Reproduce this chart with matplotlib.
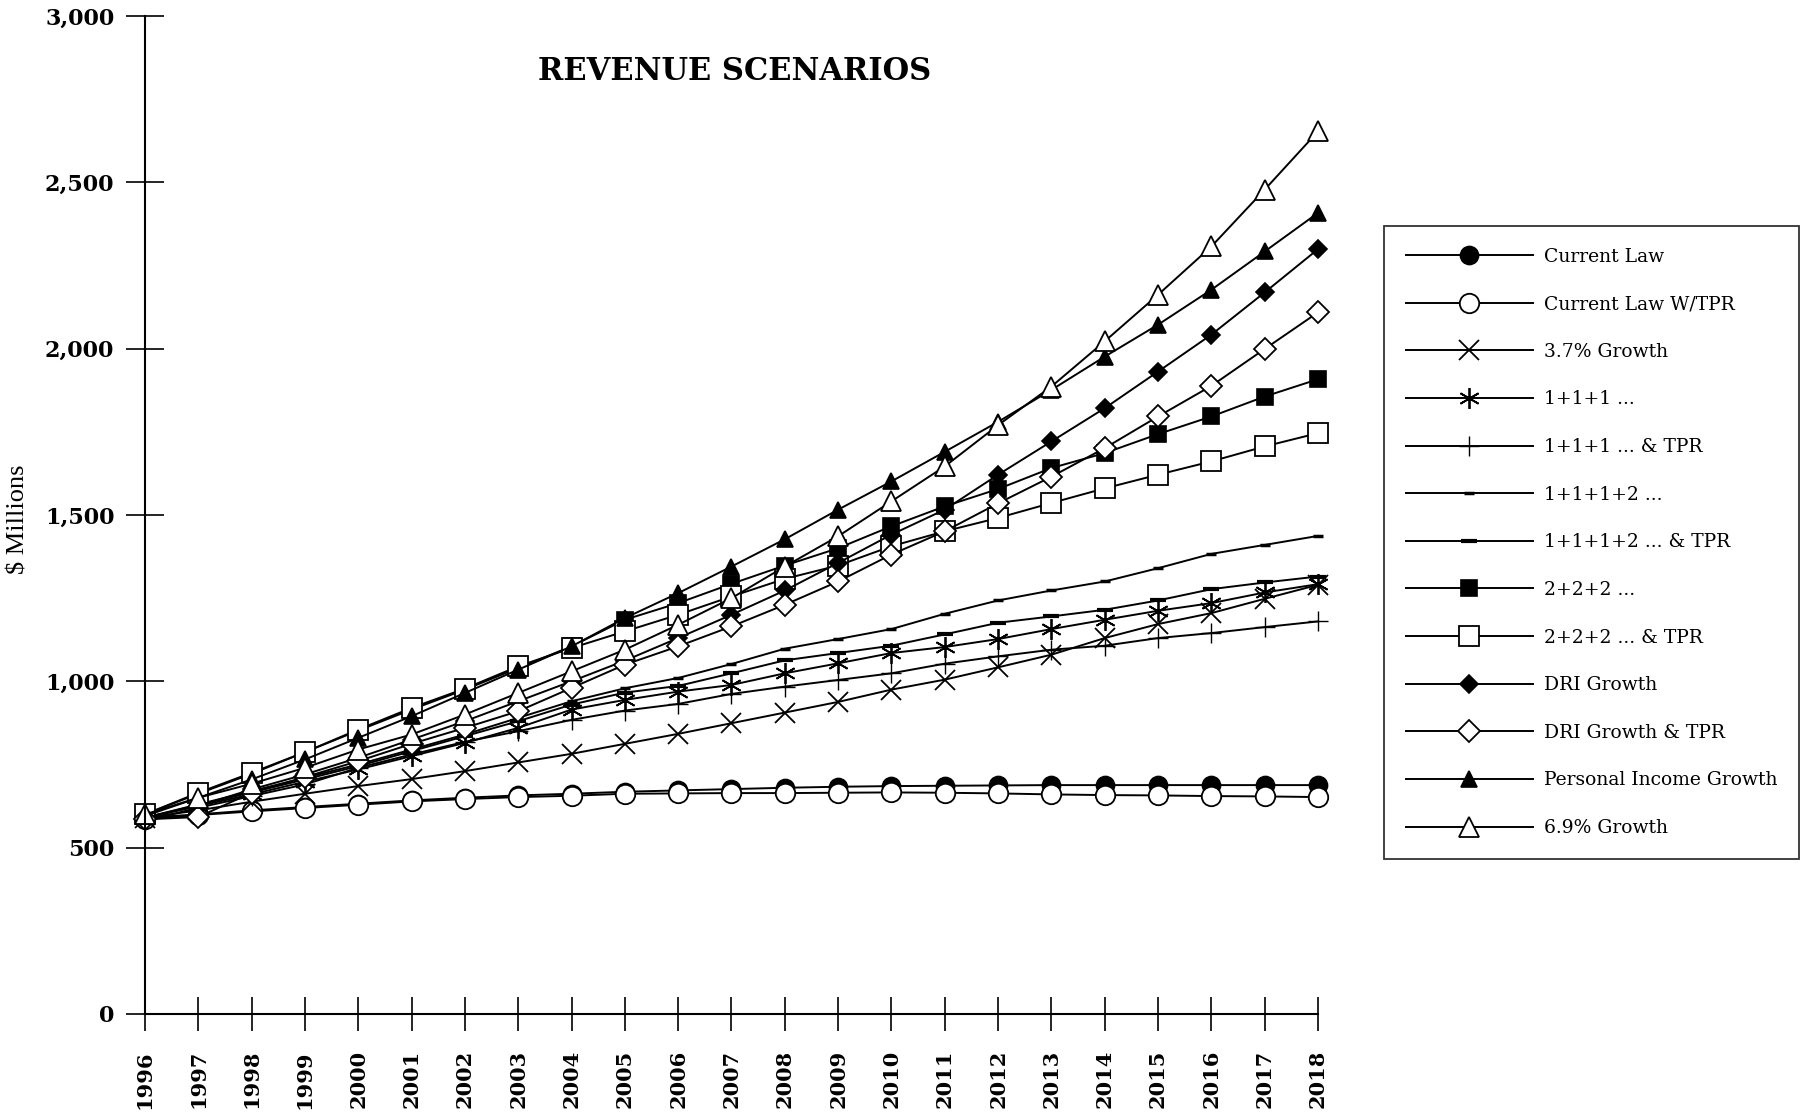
import matplotlib
matplotlib.use("Agg")
import matplotlib.pyplot as plt
from matplotlib.ticker import FuncFormatter, FixedLocator

plt.rcParams['font.family'] = ['DejaVu Serif']

years = list(range(1996, 2019))

current_law = [590, 600, 612, 622, 632, 642, 650, 657, 662, 668, 672, 676, 680,
               683, 685, 686, 687, 688, 688, 688, 688, 688, 688]
current_law_tpr = [585, 598, 609, 619, 629, 639, 646, 652, 656, 662, 663, 664, 664,
                   665, 666, 665, 663, 660, 658, 657, 655, 654, 652]
growth_37 = [590, 612, 638, 662, 685, 706, 730, 756, 782, 812, 842, 874, 906,
             938, 975, 1005, 1042, 1080, 1130, 1172, 1205, 1248, 1290]
ones = [590, 625, 660, 698, 735, 775, 815, 860, 915, 944, 969, 989, 1024,
        1054, 1085, 1103, 1127, 1157, 1185, 1212, 1235, 1267, 1292]
ones_tpr = [580, 620, 655, 690, 740, 780, 818, 850, 884, 912, 932, 962, 984,
            1004, 1024, 1053, 1075, 1095, 1107, 1130, 1145, 1163, 1180]
ones_two = [590, 630, 670, 710, 750, 795, 840, 890, 940, 979, 1010, 1052, 1098,
            1127, 1157, 1203, 1243, 1273, 1300, 1340, 1383, 1410, 1437]
ones_two_tpr = [590, 628, 666, 705, 745, 790, 835, 880, 930, 966, 986, 1024, 1063,
                1085, 1107, 1141, 1176, 1195, 1215, 1243, 1277, 1297, 1315]
twos = [600, 662, 722, 787, 852, 915, 975, 1040, 1105, 1185, 1235, 1293, 1348,
        1400, 1466, 1526, 1578, 1641, 1686, 1743, 1796, 1856, 1908]
twos_tpr = [600, 665, 725, 787, 855, 920, 978, 1045, 1100, 1150, 1200, 1255, 1308,
            1348, 1406, 1451, 1491, 1536, 1580, 1621, 1661, 1706, 1746]
dri = [590, 625, 675, 720, 770, 825, 880, 940, 1000, 1062, 1130, 1200, 1273,
       1356, 1441, 1516, 1621, 1721, 1821, 1931, 2042, 2169, 2299]
dri_tpr = [585, 592, 665, 712, 760, 812, 860, 910, 980, 1050, 1105, 1165, 1230,
           1300, 1381, 1451, 1535, 1615, 1701, 1796, 1888, 1999, 2109]
personal_income = [595, 650, 705, 765, 830, 895, 965, 1035, 1105, 1190, 1265, 1345, 1427,
                   1516, 1601, 1690, 1780, 1876, 1976, 2072, 2177, 2292, 2408]
growth_69 = [600, 650, 692, 740, 795, 840, 900, 965, 1030, 1095, 1170, 1250, 1345,
             1436, 1541, 1646, 1770, 1886, 2022, 2162, 2307, 2478, 2653]

labels = ["Current Law", "Current Law W/TPR", "3.7% Growth", "1+1+1 ...",
          "1+1+1 ... & TPR", "1+1+1+2 ...", "1+1+1+2 ... & TPR", "2+2+2 ...",
          "2+2+2 ... & TPR", "DRI Growth", "DRI Growth & TPR",
          "Personal Income Growth", "6.9% Growth"]
series = [current_law, current_law_tpr, growth_37, ones, ones_tpr, ones_two,
          ones_two_tpr, twos, twos_tpr, dri, dri_tpr, personal_income, growth_69]

# marker, size, face colour, marker edge width
styles = [
    ("o", 13, "black", 1.2),
    ("o", 14, "white", 1.3),
    ("x", 15, "black", 1.3),
    ((6, 2, 0), 15, "black", 1.3),
    ("+", 15, "black", 1.0),
    ("_", 7, "black", 2.5),
    ("_", 12, "black", 3.0),
    ("s", 12, "black", 1.2),
    ("s", 14, "white", 1.3),
    ("D", 9, "black", 1.2),
    ("D", 11, "white", 1.3),
    ("^", 12, "black", 1.2),
    ("^", 15, "white", 1.3),
]

fig = plt.figure(figsize=(18.07, 11.15), dpi=100)
ax = fig.add_axes([0.0802, 0.0906, 0.6492, 0.8951])

for vals, lab, (mk, ms, fc, mew) in zip(series, labels, styles):
    ax.plot(years, vals, color="black", linewidth=1.4, marker=mk, markersize=ms,
            markerfacecolor=fc, markeredgecolor="black", markeredgewidth=mew,
            label=lab, clip_on=False)

ax.set_xlim(1996, 2018)
ax.set_ylim(0, 3000)
ax.spines["top"].set_visible(False)
ax.spines["right"].set_visible(False)
ax.spines["left"].set_linewidth(1.5)
ax.spines["bottom"].set_linewidth(1.5)

ax.xaxis.set_major_locator(FixedLocator(years))
ax.set_xticklabels([str(y) for y in years], rotation=90, fontsize=15,
                   fontweight="bold")
ax.yaxis.set_major_locator(FixedLocator([0, 500, 1000, 1500, 2000, 2500, 3000]))
ax.yaxis.set_major_formatter(FuncFormatter(lambda v, p: f"{int(v):,}"))
for t in ax.get_yticklabels():
    t.set_fontsize(16)
    t.set_fontweight("bold")
ax.tick_params(axis="y", direction="inout", length=28, width=1.2, pad=8)
ax.tick_params(axis="x", direction="inout", length=24, width=1.2, pad=14)

ax.set_ylabel("$ Millions", fontsize=19, family="Liberation Serif")
ax.yaxis.set_label_coords(-0.0985, 0.496)

fig.text(735 / 1807, 1 - 71 / 1115, "REVENUE SCENARIOS", ha="center", va="center",
         fontsize=22, fontweight="bold")

leg = ax.legend(loc="upper left", bbox_to_anchor=(1384 / 1807, 1 - 226 / 1115),
                bbox_transform=fig.transFigure, fontsize=13.5, frameon=True,
                fancybox=False, edgecolor="black", handlelength=6.8,
                labelspacing=1.58, borderpad=1.15, handletextpad=0.6,
                borderaxespad=0)
leg.get_frame().set_linewidth(1.3)

fig.savefig("out.png", dpi=100)
